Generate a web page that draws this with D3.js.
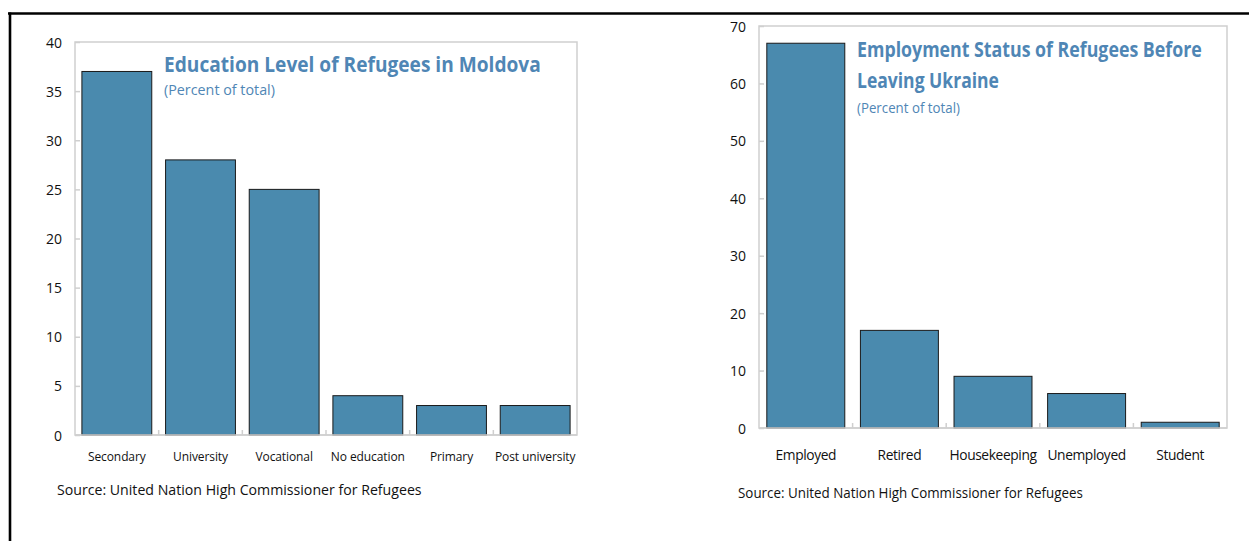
<!DOCTYPE html>
<html><head><meta charset="utf-8">
<script src="https://cdn.jsdelivr.net/npm/d3@7"></script>
<style>
body{margin:0;background:#fff;}
svg{display:block;font-family:"Open Sans","Noto Sans",sans-serif;}
</style></head>
<body>
<svg id="c" width="1249" height="541"></svg>
<script>
// ---- Data ----
const eduCategories = ["Secondary","University","Vocational","No education","Primary","Post university"];
const eduValues = [37, 28, 25, 4, 3, 3];
const eduTicks = [0,5,10,15,20,25,30,35,40];
const empCategories = ["Employed","Retired","Housekeeping","Unemployed","Student"];
const empValues = [67, 17, 9, 6, 1];
const empTicks = [0,10,20,30,40,50,60,70];
const eduTitle = ["Education Level of Refugees in Moldova"];
const empTitle = ["Employment Status of Refugees Before","Leaving Ukraine"];
const subtitle = "(Percent of total)";
const source = "Source: United Nation High Commissioner for Refugees";

const svg = d3.select("#c");
const BAR = "#4a8aae", TITLE = "#4f86b5", FRAME = "#cfcfcf";

// outer frame
svg.append("line").attr("x1",8).attr("x2",1249).attr("y1",13.5).attr("y2",13.5).attr("stroke","#000").attr("stroke-width",2.6);
svg.append("line").attr("x1",10).attr("x2",10).attr("y1",12.5).attr("y2",541).attr("stroke","#000").attr("stroke-width",2.6);

// horizontally condensed text (fits a target width by scaling)
function condensed(g, x, y, w, txt, size, weight, fill){
  const t = g.append("text").attr("x",0).attr("y",0).attr("fill",fill)
    .style("font-size",size+"px").style("font-weight",weight).text(txt);
  const nat = t.node().getComputedTextLength();
  t.attr("transform",`translate(${x},${y}) scale(${w/nat},1)`);
  return t;
}

function panel(o){
  const x = d3.scaleBand().domain(o.cats).range([o.x0,o.x1]).paddingInner(o.pad).paddingOuter(o.pad/2);
  const y = d3.scaleLinear().domain([0,o.max]).range([o.y0,o.y1]);
  const g = svg.append("g");
  g.append("rect").attr("x",o.x0).attr("y",o.y1).attr("width",o.x1-o.x0).attr("height",o.y0-o.y1)
    .attr("fill","none").attr("stroke",FRAME).attr("stroke-width",1.5);
  const ya = g.append("g").attr("transform",`translate(${o.x0},0)`)
    .call(d3.axisRight(y).tickValues(o.ticks).tickSize(5).tickFormat(d3.format("d")));
  ya.select(".domain").remove();
  ya.selectAll(".tick line").attr("stroke",FRAME).attr("stroke-width",1.5);
  ya.selectAll(".tick text").attr("x",-13).attr("text-anchor","end").attr("fill","#111")
    .style("font-size","14px").style("font-family","'Open Sans',sans-serif").attr("dy","0.36em");
  const bounds = o.cats.slice(1).map(c => x(c) - x.step()*x.paddingInner()/2);
  g.selectAll(".xt").data(bounds).join("line").attr("x1",d=>d).attr("x2",d=>d)
    .attr("y1",o.y0).attr("y2",o.y0-5).attr("stroke",FRAME).attr("stroke-width",1.5);
  g.selectAll(".bar").data(o.vals).join("rect")
    .attr("x",(d,i)=>x(o.cats[i])).attr("width",x.bandwidth())
    .attr("y",d=>y(d)).attr("height",d=>y(0)-y(d))
    .attr("fill",BAR).attr("stroke","#1a1a1a").attr("stroke-width",1);
  g.append("line").attr("x1",o.x0).attr("x2",o.x1).attr("y1",o.y0).attr("y2",o.y0).attr("stroke",FRAME).attr("stroke-width",1.5);
  g.selectAll(".xl").data(o.cats).join("text")
    .attr("x",d=>x(d)+x.bandwidth()/2).attr("y",o.labY).attr("text-anchor","middle")
    .style("font-size",o.labSize+"px").style("letter-spacing",o.labLs+"px").attr("fill","#111").text(d=>d);
  o.title.forEach((t,i)=> condensed(g, o.tx, o.ty[i], o.tw[i], t, 21, "bold", TITLE));
  condensed(g, o.tx, o.sy, o.sw, subtitle, 15, "normal", TITLE);
  condensed(g, o.srcX, o.srcY, o.srcW, source, 14, "normal", "#111");
}

panel({cats:eduCategories, vals:eduValues, ticks:eduTicks, max:40,
  x0:75, x1:577, y0:435, y1:42, pad:0.165, labY:461, labSize:12, labLs:-0.1,
  title:eduTitle, tx:164, ty:[72], tw:[377], sy:95, sw:111,
  srcX:57, srcY:495, srcW:365});
panel({cats:empCategories, vals:empValues, ticks:empTicks, max:70,
  x0:759, x1:1227, y0:428, y1:26, pad:0.167, labY:460, labSize:13.8, labLs:-0.4,
  title:empTitle, tx:857, ty:[57,88], tw:[345,142], sy:113, sw:103,
  srcX:738, srcY:498, srcW:345});
</script>
</body></html>
